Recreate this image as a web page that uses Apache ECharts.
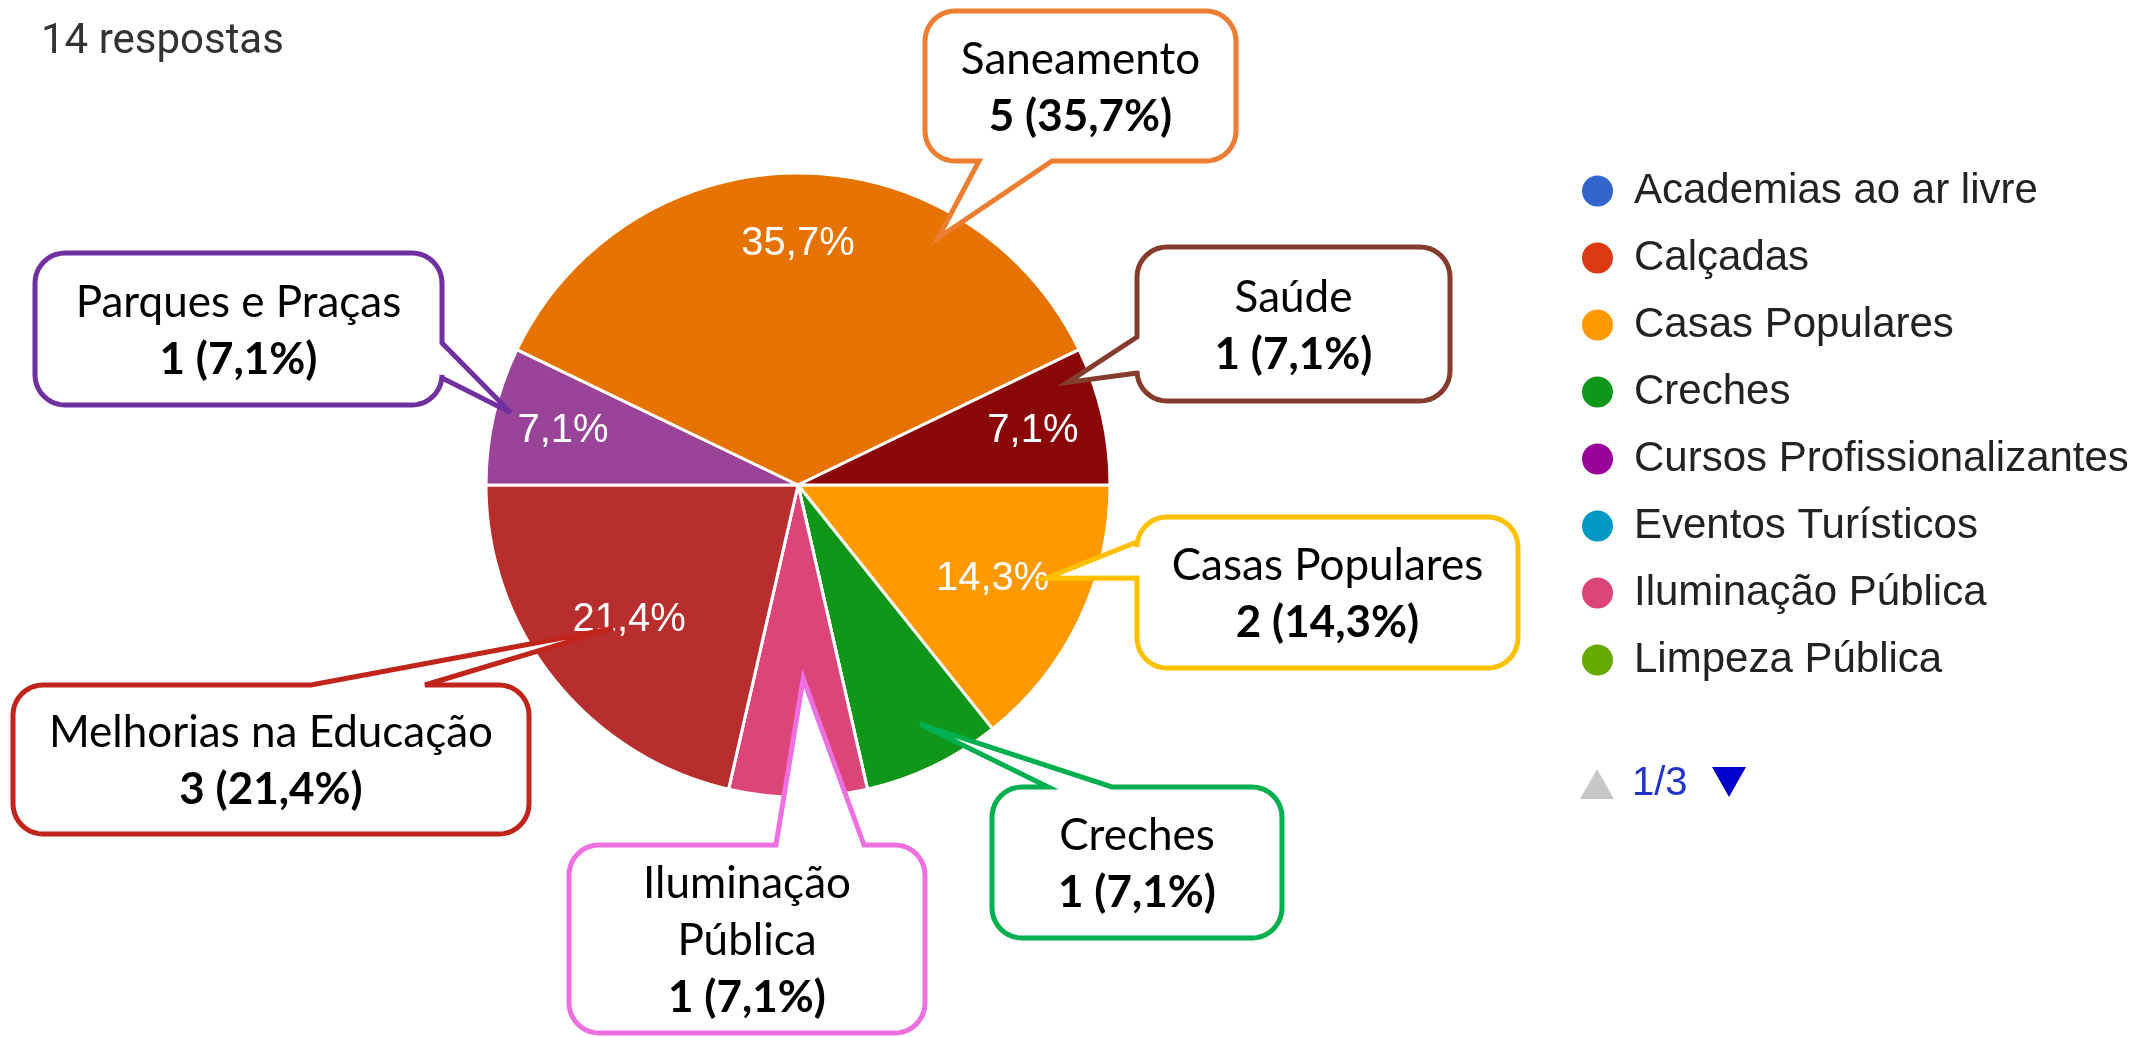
<!DOCTYPE html>
<html>
<head>
<meta charset="utf-8">
<script src="https://cdn.jsdelivr.net/npm/echarts@6/dist/echarts.min.js"></script>
<style>
  html, body { margin: 0; padding: 0; background: #fff; }
  #chart { width: 2134px; height: 1037px; }
</style>
</head>
<body>
<div id="chart"></div>
<script>
// ---- data ----
const categories = [
  'Academias ao ar livre', 'Calçadas', 'Casas Populares', 'Creches',
  'Cursos Profissionalizantes', 'Eventos Turísticos', 'Iluminação Pública',
  'Limpeza Pública', 'Melhorias na Educação', 'Parques e Praças',
  'Saneamento', 'Saúde'
];
const counts = [0, 0, 2, 1, 0, 0, 1, 0, 3, 1, 5, 1];
const legendPage = categories.slice(0, 8);      // names listed on the first legend page
const pageLabel = '1/3';
const responsesLabel = '14 respostas';
// slices whose percentage is printed inside the pie, in two label rings
const labelsOuterRing = ['Saneamento', 'Saúde', 'Parques e Praças'];
const labelsInnerRing = ['Casas Populares', 'Melhorias na Educação'];

// ---- styles ----
const palette = {
  'Academias ao ar livre': '#3366cc', 'Calçadas': '#dc3912', 'Casas Populares': '#ff9900',
  'Creches': '#109618', 'Cursos Profissionalizantes': '#990099', 'Eventos Turísticos': '#0099c6',
  'Iluminação Pública': '#dd4477', 'Limpeza Pública': '#66aa00', 'Melhorias na Educação': '#b82e2e',
  'Parques e Praças': '#994499', 'Saneamento': '#e67300', 'Saúde': '#8b0707'
};
const CX = 798, CY = 485, R = 312;
const total = counts.reduce((a, b) => a + b, 0);
const pct = v => (v / total * 100).toFixed(1).replace('.', ',');

// callout boxes: box [x, y, w, h], side of the pointer, pointer base span,
// and where the pointer lands inside its slice [fraction of the arc, fraction of the radius]
const callouts = [
  { name: 'Saneamento', box: [925, 11, 311, 150], side: 'bottom', base: [979, 1052], at: [0.73, 0.91], color: '#ED7D31' },
  { name: 'Saúde', box: [1137, 247, 313, 154], side: 'left', base: [337, 373], at: [0.19, 0.925], color: '#843C2C' },
  { name: 'Parques e Praças', box: [35, 253, 407, 152], side: 'right', base: [343, 378], at: [0.55, 0.95], color: '#7030A0' },
  { name: 'Melhorias na Educação', box: [13, 685, 516, 149], side: 'top', base: [311, 425], at: [0.51, 0.75], color: '#C0241A' },
  { name: 'Iluminação Pública', lines: ['Iluminação', 'Pública'], box: [569, 845, 356, 188], side: 'top', base: [776, 864], at: [0.44, 0.62], color: '#EE6FDF' },
  { name: 'Creches', box: [992, 787, 290, 151], side: 'top', base: [1048, 1112], at: [0.45, 0.86], color: '#00B050' },
  { name: 'Casas Populares', box: [1137, 517, 381, 151], side: 'left', base: [542, 578], at: [0.40, 0.85], color: '#FFC000' }
];

function sliceRange(name) {
  let acc = 0;
  for (let i = 0; i < categories.length; i++) {
    if (categories[i] === name) return [acc / total * 360, (acc + counts[i]) / total * 360];
    acc += counts[i];
  }
  return [0, 0];
}
function tipPoint(name, frac, rFrac) {
  const [a0, a1] = sliceRange(name);
  const a = (a0 + (a1 - a0) * frac) * Math.PI / 180;
  return [CX + R * rFrac * Math.cos(a), CY + R * rFrac * Math.sin(a)];
}
function arcPts(cx, cy, r, a0, a1) {
  const pts = [], n = 10;
  for (let t = 0; t <= n; t++) {
    const a = (a0 + (a1 - a0) * t / n) * Math.PI / 180;
    pts.push([cx + r * Math.cos(a), cy + r * Math.sin(a)]);
  }
  return pts;
}
// rounded box outline with a pointer wedge, traced clockwise
function calloutPoints(c, tip) {
  const [x, y, w, h] = c.box;
  const r = 30, x1 = x + w, y1 = y + h;
  const [b0, b1] = c.base;
  let p = arcPts(x + r, y + r, r, 180, 270);
  if (c.side === 'top') p.push([b0, y], tip, [b1, y]);
  p = p.concat(arcPts(x1 - r, y + r, r, 270, 360));
  if (c.side === 'right') p.push([x1, b0], tip, [x1, b1]);
  p = p.concat(arcPts(x1 - r, y1 - r, r, 0, 90));
  if (c.side === 'bottom') p.push([b1, y1], tip, [b0, y1]);
  p = p.concat(arcPts(x + r, y1 - r, r, 90, 180));
  if (c.side === 'left') p.push([x, b1], tip, [x, b0]);
  return p;
}

const graphics = [];
callouts.forEach(c => {
  const idx = categories.indexOf(c.name);
  const tip = tipPoint(c.name, c.at[0], c.at[1]);
  graphics.push({
    type: 'polygon', z: 10, silent: true,
    shape: { points: calloutPoints(c, tip) },
    style: { fill: '#fff', stroke: c.color, lineWidth: 5, lineJoin: 'miter', miterLimit: 6 }
  });
  const lines = (c.lines || [c.name]).map(t => ({ t, bold: false }));
  lines.push({ t: `${counts[idx]} (${pct(counts[idx])}%)`, bold: true });
  const [x, y, w, h] = c.box;
  const mid = y + h / 2 + 2, step = 57;
  lines.forEach((ln, i) => {
    graphics.push({
      type: 'text', z: 11, silent: true,
      x: x + w / 2, y: mid + (i - (lines.length - 1) / 2) * step,
      style: {
        text: ln.t, fill: '#000',
        font: (ln.bold ? 'bold ' : '') + '44px Lato',
        align: 'center', verticalAlign: 'middle',
        textAlign: 'center', textVerticalAlign: 'middle'
      }
    });
  });
});

// legend pager (page indicator below the legend)
graphics.push(
  { type: 'polygon', silent: true, shape: { points: [[1580, 799], [1614, 799], [1597, 769]] }, style: { fill: '#c8c8c8' } },
  { type: 'text', silent: true, x: 1632, y: 784,
    style: { text: pageLabel, fill: '#2233cc', font: '40px "Liberation Sans"', align: 'left', verticalAlign: 'middle', textAlign: 'left', textVerticalAlign: 'middle' } },
  { type: 'polygon', silent: true, shape: { points: [[1712, 767], [1746, 767], [1729, 797]] }, style: { fill: '#0000cc' } }
);

function pieData(showList) {
  return categories.map((n, i) => ({
    name: n, value: counts[i],
    label: { show: !!showList && showList.includes(n) }
  }));
}
const labelStyle = {
  position: 'inside', color: '#fff', fontSize: 40, fontFamily: 'Liberation Sans',
  formatter: p => pct(p.value) + '%'
};

const chart = echarts.init(document.getElementById('chart'), null, { renderer: 'canvas' });
chart.setOption({
  animation: false,
  backgroundColor: '#fff',
  title: {
    text: responsesLabel, left: 41, top: 21, padding: 0,
    textStyle: { fontFamily: 'Roboto', fontWeight: 'normal', fontSize: 42, lineHeight: 42, color: '#333' }
  },
  legend: {
    orient: 'vertical', left: 1580, top: 170, padding: 0,
    data: legendPage, icon: 'circle', itemWidth: 33, itemHeight: 33, itemGap: 25,
    selectedMode: false,
    textStyle: { fontFamily: 'Liberation Sans', fontSize: 42, lineHeight: 42, color: '#222', padding: [0, 0, 0, 15] }
  },
  color: categories.map(n => palette[n]),
  series: [
    {
      type: 'pie', center: [CX, CY], radius: [0, R], startAngle: 0, clockwise: true,
      silent: true, data: pieData(null),
      itemStyle: { borderColor: '#fff', borderWidth: 3 },
      label: { show: false }, labelLine: { show: false }
    },
    {
      type: 'pie', center: [CX, CY], radius: [164, R], startAngle: 0, clockwise: true,
      silent: true, legendHoverLink: false, data: pieData(labelsOuterRing),
      itemStyle: { color: 'rgba(0,0,0,0)', borderWidth: 0 },
      label: labelStyle, labelLine: { show: false }
    },
    {
      type: 'pie', center: [CX, CY], radius: [114, R], startAngle: 0, clockwise: true,
      silent: true, legendHoverLink: false, data: pieData(labelsInnerRing),
      itemStyle: { color: 'rgba(0,0,0,0)', borderWidth: 0 },
      label: labelStyle, labelLine: { show: false }
    }
  ],
  graphic: { elements: graphics }
});
</script>
</body>
</html>
